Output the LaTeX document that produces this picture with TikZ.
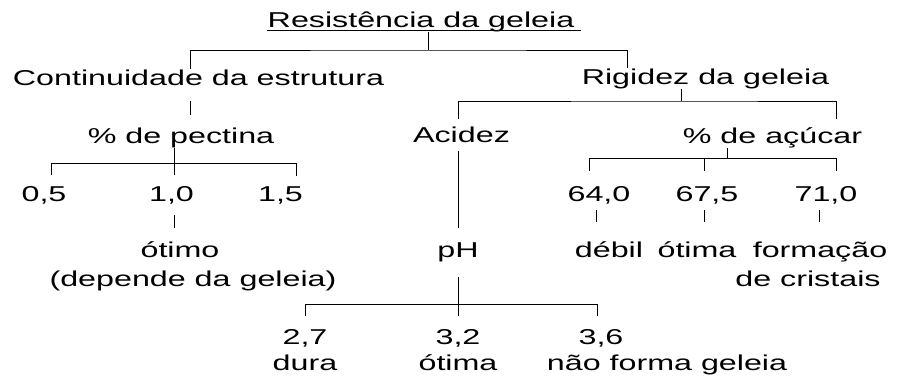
\documentclass[tikz,border=0pt]{standalone}
\usepackage{fontspec}
\setmainfont{Liberation Sans}[FakeStretch=1.5]
\begin{document}
\begin{tikzpicture}[x=1pt,y=-1pt,
  every node/.style={inner sep=0pt,anchor=base,font=\fontsize{21.5}{25}\selectfont},
  every path/.style={line width=1pt}]
\useasboundingbox (0,0) rectangle (899,376);

% text of the tree
\node (res)   at (421,27.5) {Resistência da geleia};
\node (cont)  at (198.5,85) {Continuidade da estrutura};
\node (rig)   at (705.5,84) {Rigidez da geleia};
\node (pec)   at (181,143)  {\% de pectina};
\node (acid)  at (461.5,142) {Acidez};
\node (acu)   at (772.5,143) {\% de açúcar};
\node (p05)   at (44,201)   {0,5};
\node (p10)   at (171.5,201) {1,0};
\node (p15)   at (280.5,201) {1,5};
\node (a640)  at (599,201)  {64,0};
\node (a675)  at (707,201)  {67,5};
\node (a710)  at (826,201)  {71,0};
\node (otimo) at (180,257)  {ótimo};
\node (dep)   at (193,286)  {(depende da geleia)};
\node (ph)    at (458,257)  {pH};
\node (debil) at (609,257)  {débil};
\node (otima) at (697,257)  {ótima};
\node (form)  at (820,257)  {formação};
\node (crist) at (808,286)  {de cristais};
\node (ph27)  at (305,344)  {2,7};
\node (ph32)  at (458,344)  {3,2};
\node (ph36)  at (601,344)  {3,6};
\node (dura)  at (305,370)  {dura};
\node (otimb) at (458,370)  {ótima};
\node (nao)   at (667,370)  {não forma geleia};

% underline of the title
\draw ([yshift=-2.5pt]res.base west) -- ([yshift=-2.5pt,xshift=6pt]res.base east);

% forks
\coordinate (rbar) at (428,50);
\coordinate (pbar) at (174,163);
\coordinate (gbar) at (681,101);
\coordinate (abar) at (727,158);
\coordinate (hbar) at (458,304);

\draw (res.south -| rbar) -- (rbar);
\draw (cont.north -| 190,0) |- (rbar) -| (rig.north -| 627,0);

\draw[shorten <=15pt, shorten >=12pt] (cont.south -| 190,0) -- (pec.north -| 190,0);

\draw (pec.south -| pbar) -- (pbar);
\draw (pbar -| 51,0) -- (pbar -| 296,0);
\foreach \n/\x in {p05/51,p10/174,p15/296}
  \draw[shorten >=10pt] (pbar -| \x,0) -- (\n.north -| \x,0);
\draw[shorten <=11pt, shorten >=13pt] (p10.south -| 174,0) -- (otimo.north -| 174,0);

\draw (rig.south -| gbar) -- (gbar);
\draw[shorten <=7pt, shorten >=8pt] (acid.north -| 458,0) |- (gbar) -| (acu.north -| 836,0);
\draw[shorten <=8pt, shorten >=14pt] (acid.south -| 458,0) -- (ph.north -| 458,0);

\draw (acu.south -| abar) -- (abar);
\draw (abar -| 589,0) -- (abar -| 836,0);
\foreach \n/\x in {a640/589,a675/704,a710/836}
  \draw[shorten >=14pt] (abar -| \x,0) -- (\n.north -| \x,0);
\foreach \a/\b/\x in {a640/debil/596,a675/otima/704,a710/form/819}
  \draw[shorten <=6pt, shorten >=19pt] (\a.south -| \x,0) -- (\b.north -| \x,0);

\draw[shorten <=15pt] (ph.south -| hbar) -- (hbar);
\draw (hbar -| 305,0) -- (hbar -| 597,0);
\foreach \n/\x in {ph27/305,ph32/458,ph36/597}
  \draw[shorten >=12pt] (hbar -| \x,0) -- (\n.north -| \x,0);
\end{tikzpicture}
\end{document}
